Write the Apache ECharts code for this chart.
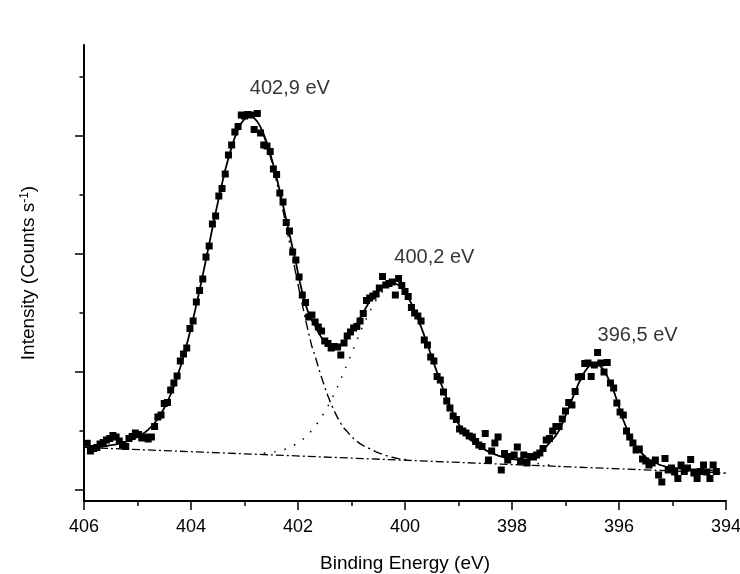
<!DOCTYPE html>
<html>
<head>
<meta charset="utf-8">
<script src="https://cdn.jsdelivr.net/npm/echarts@6/dist/echarts.min.js"></script>
<style>
html,body{margin:0;padding:0;background:#fff;}
#chart{width:740px;height:574px;}
</style>
</head>
<body>
<div id="chart"></div>
<script>
// Binding energies of the measured points (eV)
var energies = [
405.94,405.88,405.82,405.76,405.70,405.64,405.58,405.52,405.46,405.40,
405.34,405.28,405.22,405.16,405.10,405.04,404.98,404.92,404.86,404.80,
404.74,404.68,404.62,404.56,404.50,404.44,404.38,404.32,404.26,404.20,
404.14,404.08,404.02,403.96,403.90,403.84,403.78,403.72,403.66,403.60,
403.54,403.48,403.42,403.36,403.30,403.24,403.18,403.12,403.06,403.00,
402.94,402.88,402.82,402.76,402.70,402.64,402.58,402.52,402.46,402.40,
402.34,402.28,402.22,402.16,402.10,402.04,401.98,401.92,401.86,401.80,
401.74,401.68,401.62,401.56,401.50,401.44,401.38,401.32,401.26,401.20,
401.14,401.08,401.02,400.96,400.90,400.84,400.78,400.72,400.66,400.60,
400.54,400.48,400.42,400.36,400.30,400.24,400.18,400.12,400.06,400.00,
399.94,399.88,399.82,399.76,399.70,399.64,399.58,399.52,399.46,399.40,
399.34,399.28,399.22,399.16,399.10,399.04,398.98,398.92,398.86,398.80,
398.74,398.68,398.62,398.56,398.50,398.44,398.38,398.32,398.26,398.20,
398.14,398.08,398.02,397.96,397.90,397.84,397.78,397.72,397.66,397.60,
397.54,397.48,397.42,397.36,397.30,397.24,397.18,397.12,397.06,397.00,
396.94,396.88,396.82,396.76,396.70,396.64,396.58,396.52,396.46,396.40,
396.34,396.28,396.22,396.16,396.10,396.04,395.98,395.92,395.86,395.80,
395.74,395.68,395.62,395.56,395.50,395.44,395.38,395.32,395.26,395.20,
395.14,395.08,395.02,394.96,394.90,394.84,394.78,394.72,394.66,394.60,
394.54,394.48,394.42,394.36,394.30,394.24,394.18
];

// Measured intensity (counts s-1, arbitrary offset)
var measured = [
577,500,525,535,570,585,610,625,655,640,
600,565,545,625,645,680,665,630,640,620,
640,745,840,860,975,985,1110,1180,1250,1400,
1470,1530,1725,1800,1990,2105,2220,2440,2550,2770,
2850,3050,3125,3270,3460,3560,3690,3745,3860,3850,
3865,3860,3715,3875,3680,3560,3550,3495,3320,3265,
3080,2990,2785,2700,2490,2410,2240,2060,1985,1840,
1860,1790,1740,1700,1600,1575,1530,1545,1540,1460,
1580,1650,1690,1730,1745,1800,1875,2005,2030,2050,
2070,2130,2245,2160,2175,2190,2060,2225,2155,2095,
2045,1935,1880,1850,1800,1610,1560,1440,1400,1245,
1210,1090,1000,930,850,815,720,700,680,650,
640,595,560,545,675,410,500,580,640,310,
475,410,445,460,540,400,460,380,445,440,
460,480,525,610,625,700,745,745,820,900,
985,960,1095,1240,1245,1375,1380,1245,1360,1485,
1380,1290,1385,1180,1130,980,890,860,700,640,
580,510,520,420,400,360,380,410,260,190,
425,310,330,290,225,360,295,330,415,280,
225,295,360,290,225,360,295
];

// Envelope of the fit (same energies)
var fitTotal = [
536,539,540,542,544,547,550,557,561,567,
575,583,592,604,617,630,646,666,687,713,
744,780,823,873,930,994,1067,1149,1239,1338,
1445,1562,1688,1821,1961,2108,2259,2413,2571,2728,
2881,3031,3174,3309,3430,3541,3637,3716,3778,3820,
3844,3847,3830,3794,3739,3667,3579,3476,3360,3234,
3099,2959,2816,2672,2529,2389,2224,2087,1969,1871,
1806,1752,1686,1634,1590,1560,1542,1536,1544,1560,
1588,1633,1675,1724,1776,1831,1888,1943,1997,2042,
2083,2118,2145,2166,2177,2180,2175,2158,2128,2088,
2035,1974,1904,1827,1742,1654,1563,1470,1377,1284,
1195,1108,1026,949,877,810,755,706,662,626,
596,571,549,530,511,494,479,466,454,444,
435,428,422,417,414,413,412,414,419,426,
439,470,504,543,581,616,654,705,775,852,
932,1013,1093,1169,1237,1294,1337,1365,1376,1368,
1344,1303,1247,1180,1104,1008,904,810,730,660,
601,530,500,470,438,412,402,382,367,355,
346,339,334,330,327,324,322,320,318,317,
316,315,313,307,306,304,303
];

// Component 402,9 eV (+ background), energies index 55..100
var peak1Start = 55;
var fitPeak1 = [
3652,3560,3453,3330,3198,3055,2904,2749,2591,2432,
2272,2116,1964,1816,1676,1544,1450,1338,1237,1139,
1049,969,897,834,776,727,694,656,624,597,
574,554,537,524,506,492,479,467,456,446,
437,430,424,419,415,410
];

// Component 400,2 eV (+ background), energies index 55..147
var peak2Start = 55;
var fitPeak2 = [
479,482,485,490,495,502,511,522,535,550,
568,588,612,640,671,707,746,790,838,891,
949,1010,1075,1145,1217,1293,1370,1448,1528,1606,
1683,1758,1829,1895,1956,2010,2057,2095,2125,2145,
2156,2156,2144,2118,2081,2031,1972,1903,1826,1742,
1654,1563,1470,1377,1284,1195,1108,1026,949,877,
810,755,706,662,626,596,571,549,530,511,
494,479,466,454,443,434,426,419,413,407,
402,397,392,387,382,377,372,367,363,359,
355,350,346
];

// Linear background
var baselineE = [406, 394];
var baselineI = [536, 279];

// Peak annotations
var peakLabels = ['402,9 eV', '400,2 eV', '396,5 eV'];
var peakLabelE = [402.9, 400.2, 396.4];
var peakLabelI = [4130, 2435, 1655];

// Axis ticks
var xMin = 394, xMax = 406, xStep = 2;
var yMin = 0, yMax = 4560;
var yMajorTicks = [110, 1290, 2470, 3650];
var yMinorTicks = [700, 1880, 3060, 4240];

function pairs(xs, ys, offset) {
  var out = [];
  for (var i = 0; i < ys.length; i++) out.push([xs[i + (offset || 0)], ys[i]]);
  return out;
}

var FONT = '"Liberation Sans", Arial, sans-serif';
var chart = echarts.init(document.getElementById('chart'), null, {renderer: 'canvas'});

var option = {
  animation: false,
  backgroundColor: '#ffffff',
  grid: {left: 84, right: 14, top: 45, bottom: 73, containLabel: false, outerBoundsMode: 'none'},
  xAxis: {
    type: 'value', min: xMin, max: xMax, interval: xStep, inverse: true,
    name: 'Binding Energy (eV)', nameLocation: 'middle', nameGap: 53,
    nameTextStyle: {fontSize: 19, color: '#000', fontFamily: FONT},
    axisLine: {show: true, onZero: false, lineStyle: {color: '#000', width: 2}},
    axisTick: {show: true, inside: false, length: 9, lineStyle: {color: '#000', width: 1.5}},
    minorTick: {show: true, splitNumber: 2, length: 5, lineStyle: {color: '#000', width: 1.5}},
    axisLabel: {fontSize: 18, color: '#000', fontFamily: FONT, margin: 17},
    splitLine: {show: false}, minorSplitLine: {show: false}
  },
  yAxis: [{
    type: 'value', min: yMin, max: yMax, position: 'left',
    name: 'Intensity (Counts s{sup|-1})', nameLocation: 'middle', nameGap: 46,
    nameTextStyle: {fontSize: 19, color: '#000', fontFamily: FONT,
      rich: {sup: {fontSize: 12, color: '#000', fontFamily: FONT, verticalAlign: 'top', lineHeight: 12}}},
    axisLine: {show: true, onZero: false, lineStyle: {color: '#000', width: 2}},
    axisTick: {show: true, inside: false, length: 9, customValues: yMajorTicks, lineStyle: {color: '#000', width: 1.5}},
    axisLabel: {show: false},
    splitLine: {show: false}
  }, {
    type: 'value', min: yMin, max: yMax, position: 'left', offset: 0,
    axisLine: {show: false},
    axisTick: {show: true, inside: false, length: 4.5, customValues: yMinorTicks, lineStyle: {color: '#000', width: 1.5}},
    axisLabel: {show: false},
    splitLine: {show: false}
  }],
  series: [
    {
      name: 'data', type: 'scatter', symbol: 'rect', symbolSize: 7,
      itemStyle: {color: '#000', opacity: 1},
      data: pairs(energies, measured), z: 2
    },
    {
      name: 'background', type: 'line', showSymbol: false, symbol: 'none',
      lineStyle: {color: '#000', width: 1.3, type: [8, 3, 2, 3]},
      data: pairs(baselineE, baselineI), z: 3
    },
    {
      name: 'peak1', type: 'line', showSymbol: false, symbol: 'none',
      lineStyle: {color: '#000', width: 1.4, type: [9, 4, 2, 4]},
      data: pairs(energies, fitPeak1, peak1Start), z: 3
    },
    {
      name: 'peak2', type: 'line', showSymbol: false, symbol: 'none',
      lineStyle: {color: '#000', width: 1.5, type: [1.5, 9]},
      data: pairs(energies, fitPeak2, peak2Start), z: 3
    },
    {
      name: 'fit', type: 'line', showSymbol: false, symbol: 'none',
      lineStyle: {color: '#000', width: 1.8},
      data: pairs(energies, fitTotal), z: 4
    },
    {
      name: 'labels', type: 'scatter', symbolSize: 0, silent: true,
      data: peakLabels.map(function (t, i) { return {value: [peakLabelE[i], peakLabelI[i]], name: t}; }),
      label: {show: true, position: 'inside', align: 'left', verticalAlign: 'middle',
        formatter: function (p) { return p.name; },
        fontSize: 20, color: '#000', fontFamily: FONT},
      z: 5
    }
  ]
};
chart.setOption(option);
</script>
</body>
</html>
